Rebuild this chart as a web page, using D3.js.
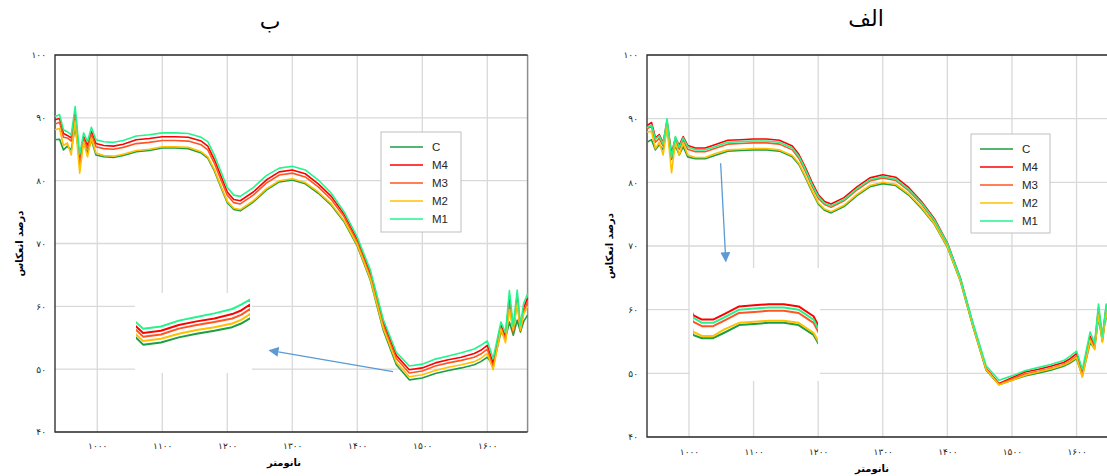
<!DOCTYPE html>
<html>
<head>
<meta charset="utf-8">
<script src="https://cdn.jsdelivr.net/npm/d3@7"></script>
<style>
  body { margin: 0; background: #fff; }
  svg { display: block; }
</style>
</head>
<body>
<div id="vis"></div>
<script>
// wavelength grid (nm) shared by every series
const wavelengths = [935, 942, 948, 954, 960, 966, 973, 979, 985, 991, 998,
    1010, 1025, 1040, 1060, 1080, 1100, 1120, 1140, 1160, 1170, 1180, 1190, 1200, 1210, 1220,
    1240, 1260, 1280, 1300, 1320, 1340, 1360, 1380, 1400, 1420, 1440, 1460, 1480, 1500,
    1520, 1540, 1560, 1580, 1590, 1600, 1609, 1621, 1628, 1634, 1640, 1646, 1651, 1656, 1662]

const seriesNames = ['C', 'M4', 'M3', 'M2', 'M1']
const xTicks = [1000, 1100, 1200, 1300, 1400, 1500, 1600]
const yTicks = [40, 50, 60, 70, 80, 90, 100]

// panel "ب" (left)
const bC = [86.5, 86.6, 84.9, 85.5, 84.9, 88.5, 83.6, 86.0, 84.4, 86.5, 84.1,
    83.8, 83.7, 84.0, 84.6, 84.8, 85.2, 85.2, 85.1, 84.4, 83.6, 81.6, 79.0, 76.5, 75.4, 75.2,
    76.6, 78.5, 79.8, 80.1, 79.5, 78.0, 76.1, 73.4, 69.6, 64.2, 56.2, 50.7, 48.3, 48.6,
    49.3, 49.8, 50.2, 50.7, 51.2, 51.9, 50.6, 55.9, 54.9, 57.5, 55.4, 57.8, 55.9, 57.6, 58.6]
const bM4 = [89.7, 89.9, 87.5, 87.2, 86.8, 90.8, 83.0, 87.0, 85.6, 87.8, 85.9,
    85.6, 85.5, 85.8, 86.5, 86.7, 87.0, 87.0, 86.9, 86.3, 85.5, 83.4, 80.8, 78.2, 77.0, 76.8,
    78.2, 80.1, 81.4, 81.7, 81.1, 79.5, 77.5, 74.6, 70.6, 65.3, 57.5, 52.2, 49.9, 50.2,
    51.0, 51.5, 51.9, 52.5, 53.0, 53.8, 50.9, 57.0, 55.2, 61.5, 56.2, 61.8, 56.4, 59.8, 61.3]
const bM3 = [89.0, 89.3, 86.9, 86.8, 86.3, 90.2, 82.5, 86.7, 85.1, 87.4, 85.4,
    85.1, 85.0, 85.3, 85.9, 86.1, 86.4, 86.4, 86.3, 85.7, 84.9, 82.8, 80.2, 77.7, 76.5, 76.3,
    77.7, 79.6, 80.9, 81.2, 80.6, 79.0, 77.0, 74.2, 70.2, 64.9, 57.0, 51.7, 49.4, 49.7,
    50.5, 51.0, 51.4, 51.9, 52.4, 53.2, 50.3, 56.6, 54.7, 60.5, 55.8, 61.0, 56.1, 59.2, 60.7]
const bM2 = [88.1, 88.3, 85.6, 86.0, 84.1, 89.5, 81.2, 86.2, 83.8, 86.8, 84.4,
    84.0, 83.9, 84.2, 84.8, 85.0, 85.4, 85.4, 85.3, 84.6, 83.8, 81.8, 79.2, 76.7, 75.6, 75.4,
    76.8, 78.7, 80.0, 80.3, 79.7, 78.2, 76.3, 73.6, 69.8, 64.4, 56.5, 51.1, 48.8, 49.1,
    49.8, 50.3, 50.7, 51.2, 51.7, 52.5, 49.9, 56.4, 54.2, 59.5, 56.2, 60.5, 56.2, 58.8, 60.0]
const bM1 = [90.2, 90.5, 88.1, 87.8, 87.3, 91.8, 84.2, 87.6, 86.2, 88.5, 86.5,
    86.2, 86.1, 86.4, 87.1, 87.3, 87.6, 87.6, 87.5, 86.9, 86.2, 84.1, 81.5, 78.9, 77.7, 77.5,
    78.9, 80.8, 82.0, 82.3, 81.7, 80.1, 78.0, 75.0, 71.0, 65.8, 57.9, 52.7, 50.5, 50.8,
    51.6, 52.1, 52.6, 53.2, 53.8, 54.5, 51.7, 57.5, 55.8, 62.5, 56.8, 62.6, 57.0, 60.5, 62.0]

// panel "الف" (right)
const aC = [86.3, 86.7, 85.1, 85.9, 85.1, 88.6, 83.6, 85.7, 84.3, 85.6, 84.0,
    83.7, 83.7, 84.2, 84.9, 85.0, 85.1, 85.1, 84.9, 84.0, 82.8, 80.8, 78.6, 76.6, 75.6, 75.2,
    76.2, 77.9, 79.3, 79.8, 79.5, 78.0, 75.9, 73.4, 69.8, 64.5, 57.2, 50.5, 48.2, 48.9,
    49.6, 50.0, 50.5, 51.1, 51.6, 52.3, 49.6, 54.8, 53.9, 58.8, 55.0, 59.6, 56.0, 58.0, 59.0]
const aM4 = [88.9, 89.4, 87.0, 87.5, 86.2, 89.6, 84.5, 87.0, 85.8, 87.2, 85.8,
    85.4, 85.4, 85.9, 86.6, 86.7, 86.8, 86.8, 86.6, 85.7, 84.4, 82.4, 80.1, 78.1, 77.0, 76.6,
    77.6, 79.3, 80.7, 81.2, 80.8, 79.2, 77.0, 74.3, 70.5, 65.0, 57.6, 50.8, 48.4, 49.3,
    50.2, 50.6, 51.1, 51.7, 52.3, 53.1, 50.0, 55.8, 54.4, 60.3, 55.6, 60.6, 56.6, 59.0, 60.0]
const aM3 = [88.4, 88.8, 86.3, 86.9, 85.7, 89.2, 83.8, 86.6, 85.2, 86.7, 85.2,
    84.8, 84.8, 85.3, 86.0, 86.1, 86.2, 86.2, 86.0, 85.1, 83.8, 81.8, 79.5, 77.5, 76.5, 76.1,
    77.1, 78.8, 80.2, 80.7, 80.3, 78.7, 76.6, 73.9, 70.2, 64.8, 57.4, 50.7, 48.3, 49.1,
    49.9, 50.3, 50.8, 51.4, 51.9, 52.7, 49.8, 55.5, 54.2, 59.8, 55.4, 60.3, 56.4, 58.6, 59.6]
const aM2 = [87.9, 88.0, 85.3, 86.3, 84.3, 88.8, 81.5, 86.3, 84.3, 86.2, 84.3,
    83.9, 83.9, 84.5, 85.1, 85.2, 85.3, 85.3, 85.1, 84.2, 83.0, 81.0, 78.8, 76.8, 75.8, 75.4,
    76.4, 78.1, 79.5, 80.0, 79.7, 78.2, 76.1, 73.5, 69.9, 64.6, 57.3, 50.6, 48.2, 48.9,
    49.7, 50.2, 50.7, 51.3, 51.8, 52.5, 49.4, 55.2, 53.7, 59.2, 54.9, 59.9, 55.8, 58.2, 59.2]
const aM1 = [88.6, 89.0, 86.8, 87.3, 86.0, 90.0, 84.0, 87.2, 85.5, 87.0, 85.6,
    85.1, 85.1, 85.6, 86.3, 86.4, 86.5, 86.5, 86.3, 85.4, 84.1, 82.1, 79.8, 77.8, 76.7, 76.3,
    77.3, 79.0, 80.4, 80.9, 80.5, 78.9, 76.8, 74.1, 70.4, 65.0, 57.8, 51.2, 48.9, 49.6,
    50.4, 50.9, 51.4, 52.0, 52.7, 53.5, 50.6, 56.5, 54.7, 60.9, 55.8, 60.9, 57.0, 59.5, 60.6]

const colors = ['#1c9e44', '#ff0000', '#ff5522', '#ffc000', '#22f58c']
const arrowColor = '#5b9bd5'
const FONT = '"DejaVu Sans", sans-serif'

const toFa = v => String(v).replace(/\d/g, d => '۰۱۲۳۴۵۶۷۸۹'[d])

const panels = [
    {
        id: 'b', title: 'ب', titleX: 270, titleY: 29,
        series: [bC, bM4, bM3, bM2, bM1],
        left: 55, right: 527.6, top: 55, bottom: 432,
        xLabelY: 446, xTitleX: 284, xTitleY: 466, yLabelX: 46, yTitleX: 19,
        legend: {x: 381, y: 132, w: 80, h: 100},
        inset: {x0: 135, x1: 252, y0: 293, y1: 373, wl: [1472, 1600], v: [44.4, 55.4], xr: [136, 250]},
        arrow: {from: [1455, 49.6], to: [1265, 53.0]}
    },
    {
        id: 'a', title: 'الف', titleX: 866, titleY: 26,
        series: [aC, aM4, aM3, aM2, aM1],
        left: 647, right: 1116.6, top: 55, bottom: 437,
        xLabelY: 452, xTitleX: 872, xTitleY: 472, yLabelX: 638, yTitleX: 609,
        legend: {x: 971, y: 134, w: 79, h: 99},
        inset: {x0: 690, x1: 820, y0: 268, y1: 381, wl: [998, 1166], v: [79.8, 90.1], xr: [693, 818]},
        arrow: {from: [1049, 83.0], to: [1057, 67.6]}
    }
]

const svg = d3.select('#vis').append('svg')
    .attr('width', 1107)
    .attr('height', 476)

function drawPanel(p) {
    const x = d3.scaleLinear().domain([935, 1662]).range([p.left, p.right])
    const y = d3.scaleLinear().domain([40, 100]).range([p.bottom, p.top])
    const g = svg.append('g')

    // grid
    g.selectAll('.vgrid').data(xTicks).join('line')
        .attr('x1', d => x(d)).attr('x2', d => x(d))
        .attr('y1', p.top).attr('y2', p.bottom)
        .attr('stroke', '#d9d9d9').attr('stroke-width', 1.3)
    g.selectAll('.hgrid').data(yTicks.slice(1, -1)).join('line')
        .attr('x1', p.left).attr('x2', p.right)
        .attr('y1', d => y(d)).attr('y2', d => y(d))
        .attr('stroke', '#d9d9d9').attr('stroke-width', 1.3)

    // frame
    g.append('line').attr('x1', p.right).attr('x2', p.right).attr('y1', p.top).attr('y2', p.bottom)
        .attr('stroke', '#8c8c8c').attr('stroke-width', 1.5)
    g.append('path')
        .attr('d', `M${p.right},${p.top}H${p.left}V${p.bottom}H${p.right}`)
        .attr('fill', 'none').attr('stroke', '#262626').attr('stroke-width', 1.3)

    // series
    const line = d3.line()
        .x((d, i) => x(wavelengths[i]))
        .y(d => y(d))
    p.series.forEach((s, k) => {
        g.append('path').datum(s)
            .attr('d', line)
            .attr('fill', 'none')
            .attr('stroke', colors[k])
            .attr('stroke-width', 1.6)
            .attr('stroke-linejoin', 'round')
    })

    // axes
    const xAxis = g.append('g')
        .attr('transform', `translate(0,${p.xLabelY})`)
        .call(d3.axisBottom(x).tickValues(xTicks).tickSize(0).tickPadding(0).tickFormat(toFa))
    xAxis.select('.domain').remove()
    const yAxis = g.append('g')
        .attr('transform', `translate(${p.yLabelX},0)`)
        .call(d3.axisLeft(y).tickValues(yTicks).tickSize(0).tickPadding(0).tickFormat(toFa))
    yAxis.select('.domain').remove()
    g.selectAll('.tick text')
        .attr('font-family', FONT).attr('font-size', 9).attr('fill', '#262626')
        .attr('letter-spacing', 1.8)
    xAxis.selectAll('.tick text').attr('dy', '0.35em')

    // titles
    g.append('text').text(p.title)
        .attr('x', p.titleX).attr('y', p.titleY)
        .attr('text-anchor', 'middle')
        .attr('font-family', FONT).attr('font-size', 22).attr('fill', '#000')
    g.append('text').text('نانومتر')
        .attr('x', p.xTitleX).attr('y', p.xTitleY)
        .attr('text-anchor', 'middle')
        .attr('font-family', FONT).attr('font-size', 10).attr('font-weight', 'bold')
    g.append('text').text('درصد انعکاس')
        .attr('transform', `translate(${p.yTitleX},${(p.top + p.bottom) / 2}) rotate(-90)`)
        .attr('text-anchor', 'middle').attr('dy', '0.35em')
        .attr('font-family', FONT).attr('font-size', 10).attr('font-weight', 'bold')

    // inset (magnified view)
    const ins = p.inset
    const ix = d3.scaleLinear().domain(ins.wl).range(ins.xr)
    const iy = d3.scaleLinear().domain(ins.v).range([ins.y1, ins.y0])
    svg.append('clipPath').attr('id', 'clip-' + p.id)
        .append('rect')
        .attr('x', ins.xr[0]).attr('y', ins.y0)
        .attr('width', ins.xr[1] - ins.xr[0]).attr('height', ins.y1 - ins.y0)
    g.append('rect')
        .attr('x', ins.x0).attr('y', ins.y0)
        .attr('width', ins.x1 - ins.x0).attr('height', ins.y1 - ins.y0)
        .attr('fill', '#fff')
    const iline = d3.line()
        .x((d, i) => ix(wavelengths[i]))
        .y(d => iy(d))
    const ig = g.append('g').attr('clip-path', `url(#clip-${p.id})`)
    p.series.forEach((s, k) => {
        ig.append('path').datum(s)
            .attr('d', iline)
            .attr('fill', 'none')
            .attr('stroke', colors[k])
            .attr('stroke-width', 2)
            .attr('stroke-linejoin', 'round')
    })

    // arrow
    svg.append('defs').append('marker')
        .attr('id', 'arrow-' + p.id)
        .attr('viewBox', '0 0 10 10')
        .attr('refX', 9).attr('refY', 5)
        .attr('markerWidth', 10).attr('markerHeight', 10)
        .attr('markerUnits', 'userSpaceOnUse')
        .attr('orient', 'auto')
        .append('path').attr('d', 'M0,0L10,5L0,10Z').attr('fill', arrowColor)
    g.append('line')
        .attr('x1', x(p.arrow.from[0])).attr('y1', y(p.arrow.from[1]))
        .attr('x2', x(p.arrow.to[0])).attr('y2', y(p.arrow.to[1]))
        .attr('stroke', arrowColor).attr('stroke-width', 1.3)
        .attr('marker-end', `url(#arrow-${p.id})`)

    // legend
    const lg = p.legend
    const leg = g.append('g').attr('transform', `translate(${lg.x},${lg.y})`)
    leg.append('rect')
        .attr('width', lg.w).attr('height', lg.h)
        .attr('fill', '#fff').attr('stroke', '#bfbfbf').attr('stroke-width', 1)
    const item = leg.selectAll('.item').data(seriesNames).join('g')
        .attr('transform', (d, i) => `translate(0,${15 + i * 18})`)
    item.append('line')
        .attr('x1', 9).attr('x2', 42)
        .attr('stroke', (d, i) => colors[i]).attr('stroke-width', 1.5)
    item.append('text').text(d => d)
        .attr('x', 51).attr('dy', '0.35em')
        .attr('font-family', '"Liberation Sans", Arial, sans-serif')
        .attr('font-size', 11.5).attr('fill', '#262626')
}

panels.forEach(drawPanel)
</script>
</body>
</html>
